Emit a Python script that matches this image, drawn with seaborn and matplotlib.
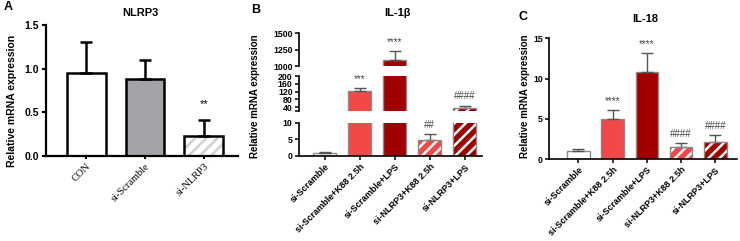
import matplotlib
matplotlib.use("Agg")
import numpy as np
import matplotlib.pyplot as plt
import seaborn as sns
from matplotlib.patches import Rectangle

sns.set_theme(style="ticks", rc={"text.color": "black", "xtick.color": "black",
                                 "ytick.color": "black", "axes.edgecolor": "black",
                                 "axes.labelcolor": "black"})
plt.rcParams['font.family'] = ['Liberation Sans', 'DejaVu Sans']
plt.rcParams['hatch.linewidth'] = 1.8

# ---- data ----
a_groups = ["CON", "si-Scramble", "si-NLRP3"]
a_mean = [0.95, 0.88, 0.23]
a_err = [0.35, 0.22, 0.18]
a_sig = ["", "", "**"]

bc_groups = ["si-Scramble", "si-Scramble+K88 2.5h", "si-Scramble+LPS",
             "si-NLRP3+K88 2.5h", "si-NLRP3+LPS"]
b_mean = [1.0, 124, 1090, 4.8, 38]
b_err = [0.25, 14, 137, 1.8, 10]
b_sig = ["", "***", "****", "##", "####"]
c_mean = [1.03, 4.95, 10.85, 1.5, 2.1]
c_err = [0.2, 1.1, 2.35, 0.5, 0.85]
c_sig = ["", "****", "****", "####", "####"]

a_colors = ["white", "#a2a2a8", "white"]
bc_colors = ["white", "#f24848", "#a00000", "#f24848", "#a00000"]
a_hatch = [None, None, "#cfcfcf"]
bc_hatch = [None, None, None, "white", "white"]

ylab = "Relative mRNA expression"


def draw_bars(ax, groups, means, errs, colors, hatches, edge, lw, ecol):
    df = {"g": groups, "v": means}
    sns.barplot(x="g", y="v", hue="g", data=df, palette=colors, legend=False,
                width=0.66, edgecolor=edge, linewidth=lw, ax=ax, errorbar=None,
                saturation=1)
    for p, h in zip(ax.patches, hatches):
        if h is None:
            continue
        p.set_edgecolor(h)
        p.set_hatch("///")
        p.set_linewidth(0)
        ax.add_patch(Rectangle(p.get_xy(), p.get_width(), p.get_height(),
                               fill=False, edgecolor=edge, linewidth=lw,
                               zorder=p.get_zorder() + 0.1))
    x = np.arange(len(groups))
    ax.errorbar(x, means, yerr=[np.zeros(len(means)), errs], fmt="none",
                ecolor=ecol, elinewidth=lw, capsize=4, capthick=lw, zorder=1)
    ax.set_xlabel("")
    ax.set_ylabel("")


def annotate(ax, i, top, s, off, color, size):
    ax.annotate(s, xy=(i, top), xytext=(0, off), textcoords="offset points",
                ha="center", va="bottom", fontsize=size, color=color,
                annotation_clip=False)


fig = plt.figure(figsize=(7.4, 2.41), dpi=100)

# ---------------- panel A ----------------
axA = fig.add_axes([0.0622, 0.3527, 0.2595, 0.5436])
draw_bars(axA, a_groups, a_mean, a_err, a_colors, a_hatch, "black", 1.8, "black")
axA.set_xlim(-0.68, 2.58)
axA.set_ylim(0, 1.5)
axA.set_yticks([0, 0.5, 1.0, 1.5])
axA.set_yticklabels(["0.0", "0.5", "1.0", "1.5"], fontsize=7.5, fontweight="bold")
axA.set_xticks(range(3))
axA.set_xticklabels(a_groups, rotation=45, ha="right", rotation_mode="anchor",
                    fontsize=7.5, family="Liberation Serif")
axA.tick_params(axis="both", width=1.5, length=3, pad=2)
axA.tick_params(axis="x", length=2)
for s in ["left", "bottom"]:
    axA.spines[s].set_linewidth(1.6)
sns.despine(ax=axA)
for i, s in enumerate(a_sig):
    if s:
        annotate(axA, i, a_mean[i] + a_err[i], s, 8, "black", 8)
fig.text(0.016, 0.58, ylab, rotation=90, ha="center", va="center",
         fontsize=7.5, fontweight="bold")
fig.text(0.19, 0.945, "NLRP3", ha="center", va="center", fontsize=8, fontweight="bold")
fig.text(0.011, 0.97, "A", ha="center", va="center", fontsize=9, fontweight="bold")

# ---------------- panel B (broken axis) ----------------
b_left, b_width = 0.404, 0.2473
segs = [((1000, 1500), [1000, 1250, 1500], [0.7261, 0.1369]),
        ((20, 200), [40, 80, 120, 160, 200], [0.5394, 0.1452]),
        ((0, 10), [0, 5, 10], [0.3527, 0.138])]
b_axes = []
for lim, ticks, (bot, h) in segs:
    ax = fig.add_axes([b_left, bot, b_width, h])
    draw_bars(ax, bc_groups, b_mean, b_err, bc_colors, bc_hatch, "#8a8a8a", 1.0, "#555555")
    ax.set_xlim(-0.74, 4.49)
    ax.set_ylim(*lim)
    ax.set_yticks(ticks)
    ax.set_yticklabels([str(t) for t in ticks], fontsize=6.3, fontweight="bold")
    ax.set_yticks([lim[0]], minor=True)
    ax.tick_params(axis="y", which="both", width=1.1, length=3, pad=1.5)
    ax.spines["left"].set_linewidth(1.2)
    ax.spines["bottom"].set_linewidth(1.2)
    sns.despine(ax=ax)
    b_axes.append(ax)
for ax in b_axes[:2]:
    ax.spines["bottom"].set_visible(False)
    ax.set_xticks([])
axB = b_axes[-1]
axB.set_xticks(range(5))
axB.set_xticklabels(bc_groups, rotation=45, ha="right", rotation_mode="anchor",
                    fontsize=6.5, fontweight="bold")
axB.tick_params(axis="x", width=1.1, length=3, pad=1.5)
for i, s in enumerate(b_sig):
    if not s:
        continue
    top = b_mean[i] + b_err[i]
    for (lim, _, _), ax in zip(segs, b_axes):
        if lim[0] <= top <= lim[1]:
            annotate(ax, i, top, s, 3 if "*" in s else 3, "#444444", 7)
fig.text(0.345, 0.6, ylab, rotation=90, ha="center", va="center",
         fontsize=7, fontweight="bold")
fig.text(0.537, 0.945, "IL-1β", ha="center", va="center", fontsize=8, fontweight="bold")
fig.text(0.345, 0.96, "B", ha="center", va="center", fontsize=9, fontweight="bold")

# ---------------- panel C ----------------
axC = fig.add_axes([0.7419, 0.3402, 0.254, 0.5008])
draw_bars(axC, bc_groups, c_mean, c_err, bc_colors, bc_hatch, "#8a8a8a", 1.0, "#555555")
axC.set_xlim(-0.86, 4.63)
axC.set_ylim(0, 15)
axC.set_yticks([0, 5, 10, 15])
axC.set_yticklabels(["0", "5", "10", "15"], fontsize=6.3, fontweight="bold")
axC.set_xticks(range(5))
axC.set_xticklabels(bc_groups, rotation=45, ha="right", rotation_mode="anchor",
                    fontsize=6.5, fontweight="bold")
axC.tick_params(axis="both", width=1.1, length=3, pad=1.5)
for s in ["left", "bottom"]:
    axC.spines[s].set_linewidth(1.2)
sns.despine(ax=axC)
for i, s in enumerate(c_sig):
    if s:
        annotate(axC, i, c_mean[i] + c_err[i], s, 3 if "*" in s else 3, "#444444", 7)
fig.text(0.709, 0.6, ylab, rotation=90, ha="center", va="center",
         fontsize=7, fontweight="bold")
fig.text(0.872, 0.92, "IL-18", ha="center", va="center", fontsize=8, fontweight="bold")
fig.text(0.707, 0.93, "C", ha="center", va="center", fontsize=9, fontweight="bold")

fig.savefig("out.png", dpi=100)
